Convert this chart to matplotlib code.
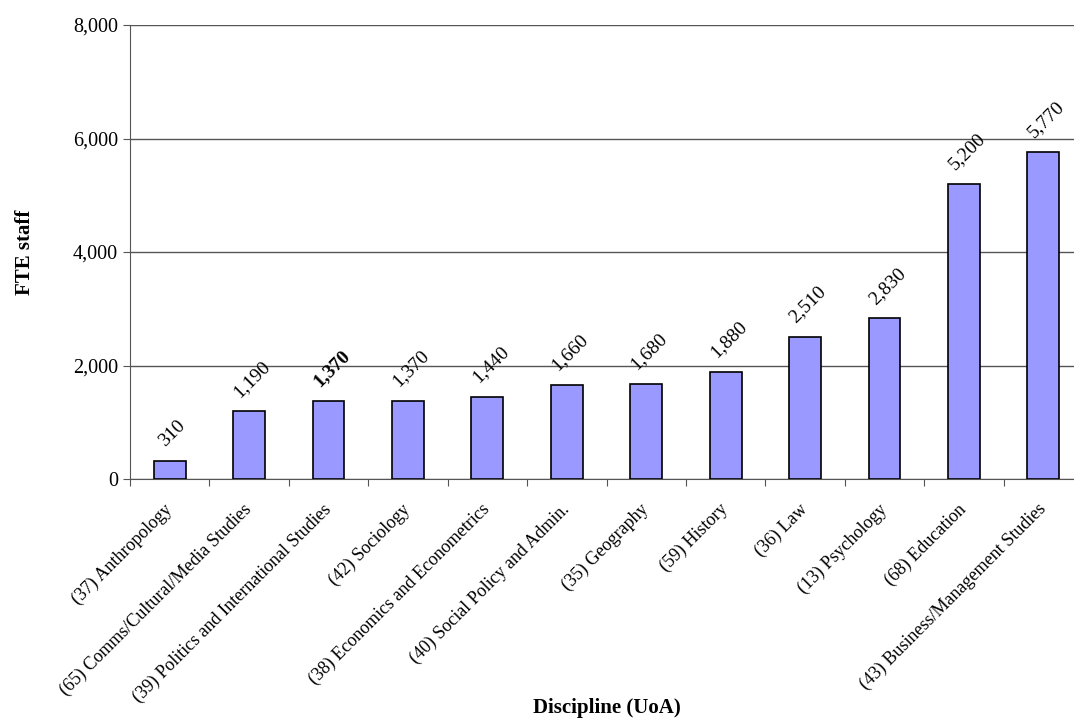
import matplotlib.pyplot as plt
from matplotlib.ticker import FuncFormatter, FixedLocator

disciplines = [
    "(37) Anthropology",
    "(65) Comms/Cultural/Media Studies",
    "(39) Politics and International Studies",
    "(42) Sociology",
    "(38) Economics and Econometrics",
    "(40) Social Policy and Admin.",
    "(35) Geography",
    "(59) History",
    "(36) Law",
    "(13) Psychology",
    "(68) Education",
    "(43) Business/Management Studies",
]
fte_staff = [310, 1190, 1370, 1370, 1440, 1660, 1680, 1880, 2510, 2830, 5200, 5770]
bold_labels = [2]

plt.rcParams["font.family"] = ["Liberation Serif", "DejaVu Serif"]

fig = plt.figure(figsize=(10.74, 7.22), dpi=100)
ax = fig.add_axes([130 / 1074, 1 - 479 / 722, (1083 - 130) / 1074, (479 - 25) / 722])

x = list(range(len(disciplines)))
ax.bar(x, fte_staff, width=0.4, color="#9999FF", edgecolor="black", linewidth=1.2, zorder=3)

for i, v in enumerate(fte_staff):
    ax.annotate(f"{v:,}", (i, v), xytext=(2, 8), textcoords="offset points",
                rotation=45, ha="center", va="bottom", fontsize=14,
                fontweight="bold" if i in bold_labels else "normal")

ax.set_xlim(-0.5, len(disciplines) - 0.5)
ax.set_ylim(0, 8000)
ax.set_yticks([0, 2000, 4000, 6000, 8000])
ax.yaxis.set_major_formatter(FuncFormatter(lambda v, p: f"{int(v):,}"))
ax.tick_params(axis="y", labelsize=14.5, length=5, color="#555555")

ax.xaxis.set_major_locator(FixedLocator([i - 0.5 for i in range(len(disciplines) + 1)]))
ax.set_xticklabels([])
ax.xaxis.set_minor_locator(FixedLocator(x))
ax.set_xticks(x, disciplines, minor=True)
ax.tick_params(axis="x", which="minor", length=0, pad=20)
ax.tick_params(axis="x", which="major", length=5, color="#555555")
for lbl in ax.get_xticklabels(minor=True):
    lbl.set_rotation(45)
    lbl.set_ha("right")
    lbl.set_va("center")
    lbl.set_rotation_mode("anchor")
    lbl.set_fontsize(13)

ax.yaxis.grid(True, color="#555555", linewidth=1)
ax.set_axisbelow(True)
for s in ["top", "right"]:
    ax.spines[s].set_visible(False)
for s in ["left", "bottom"]:
    ax.spines[s].set_color("#555555")

fig.text(25 / 1074, 1 - 252 / 722, "FTE staff", rotation=90, ha="center", va="center",
         fontsize=15, fontweight="bold")
fig.text(607 / 1074, 1 - 708 / 722, "Discipline (UoA)", ha="center", va="center",
         fontsize=15, fontweight="bold")

fig.savefig("out.png", dpi=100)
